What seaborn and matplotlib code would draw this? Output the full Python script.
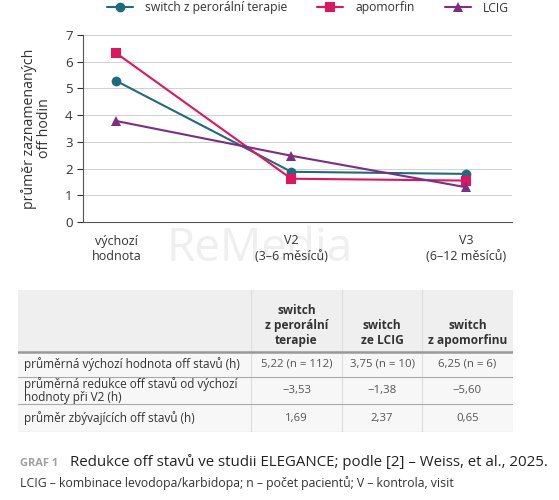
import pandas as pd
import seaborn as sns
import matplotlib.pyplot as plt

visits = ['výchozí\nhodnota', 'V2\n(3–6 měsíců)', 'V3\n(6–12 měsíců)']
series_names = ['switch z perorální terapie', 'apomorfin', 'LCIG']
oral = [5.28, 1.88, 1.80]
apomorphine = [6.32, 1.62, 1.55]
lcig = [3.78, 2.48, 1.30]

col_headers = ['switch\nz perorální\nterapie', 'switch\nze LCIG', 'switch\nz apomorfinu']
row_labels = ['průměrná výchozí hodnota off stavů (h)',
              'průměrná redukce off stavů od výchozí\nhodnoty při V2 (h)',
              'průměr zbývajících off stavů (h)']
row_values = [['5,22 (n = 112)', '3,75 (n = 10)', '6,25 (n = 6)'],
              ['−3,53', '−1,38', '−5,60'],
              ['1,69', '2,37', '0,65']]

colors = ['#1d6b7f', '#e2135f', '#7e2c84']
markers = ['o', 's', '^']

sns.set_style('white')
plt.rcParams['font.family'] = ['Open Sans', 'DejaVu Sans']

df = pd.DataFrame({
    'visit': list(range(len(visits))) * 3,
    'value': oral + apomorphine + lcig,
    'series': [s for s in series_names for _ in visits],
})

fig = plt.figure(figsize=(5.59, 5.0), dpi=100)
ax = fig.add_axes([0.1485, 0.556, 0.767, 0.374])
ax.set_facecolor('none')

sns.lineplot(data=df, x='visit', y='value', hue='series', style='series',
             palette=colors, markers=markers, dashes=False, markersize=7,
             markeredgewidth=0, linewidth=1.5, ax=ax, legend=False)

ax.set_xlim(-0.19, 2.26)
ax.set_ylim(0, 7)
ax.set_yticks(range(8))
ax.set_xticks(range(len(visits)))
ax.set_xticklabels(visits, fontsize=9, color='#333333', linespacing=1.3)
ax.tick_params(axis='y', labelsize=9.5, colors='#333333', length=4, width=0.8, left=True)
ax.tick_params(axis='x', length=0, pad=9)
ax.grid(axis='y', color='#d0d0d0', linewidth=0.7)
ax.set_axisbelow(True)
for s in ['top', 'right']:
    ax.spines[s].set_visible(False)
ax.spines['left'].set_color('#555555')
ax.spines['bottom'].set_color('#555555')
ax.spines['left'].set_linewidth(0.8)
ax.spines['bottom'].set_linewidth(0.8)
ax.set_xlabel('')
ax.set_ylabel('průměr zaznamenaných\noff hodin', fontsize=10.2, color='#333333',
              linespacing=1.0, labelpad=9)

fig.text(260 / 559, 1 - 249 / 500, 'ReMedia', fontsize=33, color='#efefef',
         ha='center', va='center', zorder=-1)

handles = [plt.Line2D([], [], color=c, marker=m, markersize=7, markeredgewidth=0, linewidth=1.5)
           for c, m in zip(colors, markers)]
fig.legend(handles, series_names, loc='center left', bbox_to_anchor=(107 / 559, 1 - 8 / 500),
           ncol=3, frameon=False, fontsize=8.7, handlelength=2.15, handletextpad=1.0,
           columnspacing=2.48, borderpad=0, borderaxespad=0, labelcolor='#333333')

# table
tax = fig.add_axes([18 / 559, 1 - 432 / 500, (513 - 18) / 559, (432 - 290) / 500])
tax.set_xlim(18, 513)
tax.set_ylim(432, 290)
tax.axis('off')
col_edges = [18, 251, 342, 422, 513]
row_edges = [290, 352, 377, 404, 432]
tax.axhspan(row_edges[0], row_edges[-1], color='#f7f7f7', lw=0)
tax.axhspan(row_edges[0], row_edges[1], color='#efefef', lw=0)
for x in col_edges[1:-1]:
    tax.plot([x, x], [row_edges[0], row_edges[-1]], color='#dddddd', lw=0.8)
tax.plot([18, 513], [row_edges[1], row_edges[1]], color='#999999', lw=1.8)
for y in row_edges[2:]:
    tax.plot([18, 513], [y, y], color='#aaaaaa', lw=0.8)

for j, h in enumerate(col_headers):
    xc = (col_edges[j + 1] + col_edges[j + 2]) / 2
    tax.text(xc, row_edges[1] - 5, h, ha='center', va='bottom', fontsize=8.6,
             fontweight='bold', color='#333333', linespacing=1.2)
for i, (lab, vals) in enumerate(zip(row_labels, row_values)):
    yc = (row_edges[i + 1] + row_edges[i + 2]) / 2
    tax.text(24, yc, lab, ha='left', va='center', fontsize=8.5, color='#333333', linespacing=1.0)
    for j, v in enumerate(vals):
        xc = (col_edges[j + 1] + col_edges[j + 2]) / 2
        tax.text(xc, yc, v, ha='center', va='center', fontsize=8.2, color='#555555')

fig.text(20 / 559, 1 - 463 / 500, 'GRAF 1', fontsize=7.9, fontweight='bold', color='#a0a0a0', va='center')
fig.text(70 / 559, 1 - 462 / 500, 'Redukce off stavů ve studii ELEGANCE; podle [2] – Weiss, et al., 2025.',
         fontsize=10.8, color='#222222', va='center')
fig.text(20 / 559, 1 - 483 / 500, 'LCIG – kombinace levodopa/karbidopa; n – počet pacientů; V – kontrola, visit',
         fontsize=8.8, color='#333333', va='center')

fig.savefig('out.png', dpi=100, facecolor='white')
